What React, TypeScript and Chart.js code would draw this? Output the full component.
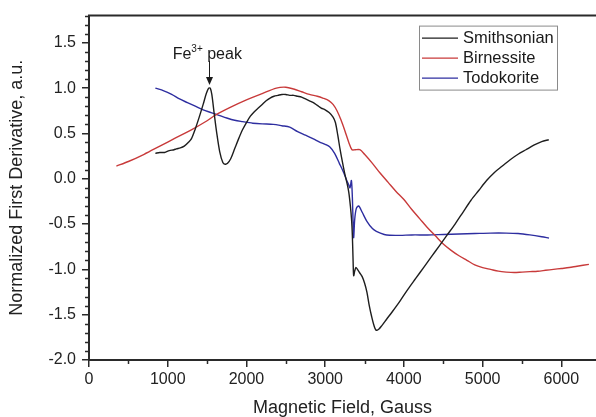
import { useEffect, useRef } from "react";
import { Chart, registerables } from "chart.js";

Chart.register(...registerables);

const seriesNames = ["Smithsonian", "Birnessite", "Todokorite"];

const smithX = [843, 900, 960, 1020, 1080, 1110, 1160, 1210, 1260, 1300, 1350, 1400, 1450, 1490, 1520, 1540, 1560, 1590, 1620, 1660, 1700, 1730, 1760, 1800, 1850, 1900, 1950, 2000, 2050, 2100, 2150, 2200, 2250, 2300, 2350, 2400, 2450, 2500, 2550, 2600, 2650, 2700, 2750, 2800, 2850, 2900, 2950, 3000, 3050, 3100, 3130, 3160, 3190, 3220, 3250, 3280, 3300, 3320, 3335, 3345, 3355, 3362, 3375, 3390, 3410, 3440, 3470, 3500, 3530, 3560, 3590, 3620, 3645, 3680, 3720, 3780, 3850, 3950, 4050, 4150, 4250, 4350, 4450, 4550, 4650, 4750, 4850, 4950, 5050, 5150, 5250, 5350, 5450, 5550, 5650, 5750, 5840];
const smithY = [0.28, 0.29, 0.29, 0.31, 0.32, 0.33, 0.34, 0.36, 0.40, 0.44, 0.55, 0.68, 0.82, 0.94, 1.0, 1.0, 0.93, 0.72, 0.52, 0.30, 0.18, 0.16, 0.17, 0.22, 0.33, 0.44, 0.54, 0.62, 0.69, 0.74, 0.78, 0.82, 0.86, 0.89, 0.91, 0.92, 0.93, 0.93, 0.92, 0.92, 0.91, 0.90, 0.88, 0.86, 0.84, 0.81, 0.78, 0.76, 0.73, 0.68, 0.62, 0.48, 0.32, 0.18, 0.05, -0.06, -0.15, -0.30, -0.45, -0.62, -0.92, -1.07, -1.02, -0.98, -1.0, -1.04, -1.08, -1.15, -1.25, -1.40, -1.52, -1.62, -1.67, -1.66, -1.62, -1.55, -1.47, -1.35, -1.22, -1.10, -0.98, -0.86, -0.74, -0.62, -0.50, -0.37, -0.24, -0.13, -0.02, 0.07, 0.14, 0.21, 0.27, 0.32, 0.37, 0.41, 0.43];

const birnX = [348, 500, 700, 900, 1100, 1300, 1500, 1600, 1800, 2000, 2200, 2380, 2500, 2600, 2700, 2800, 2900, 2970, 3050, 3100, 3150, 3200, 3250, 3300, 3340, 3380, 3440, 3500, 3600, 3700, 3800, 3900, 4000, 4100, 4200, 4300, 4400, 4500, 4600, 4700, 4800, 4900, 5000, 5100, 5200, 5300, 5400, 5500, 5600, 5700, 5800, 5900, 6000, 6100, 6200, 6350];
const birnY = [0.14, 0.19, 0.27, 0.36, 0.45, 0.54, 0.64, 0.70, 0.79, 0.87, 0.94, 1.0, 1.01, 0.99, 0.96, 0.93, 0.91, 0.89, 0.86, 0.82, 0.75, 0.65, 0.53, 0.40, 0.32, 0.32, 0.32, 0.27, 0.17, 0.06, -0.04, -0.14, -0.23, -0.34, -0.44, -0.54, -0.63, -0.72, -0.79, -0.85, -0.90, -0.95, -0.98, -1.0, -1.02, -1.03, -1.035, -1.03, -1.025, -1.02, -1.01, -1.0, -0.99, -0.98, -0.965, -0.945];

const todoX = [843, 950, 1050, 1150, 1250, 1350, 1450, 1550, 1650, 1750, 1850, 1950, 2080, 2200, 2340, 2450, 2550, 2650, 2750, 2850, 2930, 3000, 3060, 3120, 3180, 3230, 3270, 3300, 3315, 3333, 3345, 3355, 3362, 3375, 3395, 3425, 3470, 3530, 3600, 3650, 3750, 3820, 3950, 4100, 4300, 4500, 4700, 4900, 5100, 5300, 5450, 5600, 5750, 5843];
const todoY = [1.0, 0.97, 0.93, 0.88, 0.84, 0.80, 0.76, 0.73, 0.70, 0.67, 0.645, 0.63, 0.613, 0.605, 0.60, 0.585, 0.569, 0.52, 0.48, 0.44, 0.405, 0.38, 0.35, 0.28, 0.17, 0.077, -0.01, -0.07, -0.10, -0.02, -0.2, -0.5, -0.65, -0.45, -0.33, -0.30, -0.37, -0.47, -0.55, -0.58, -0.615, -0.624, -0.625, -0.62, -0.62, -0.615, -0.61, -0.605, -0.60, -0.60, -0.605, -0.62, -0.64, -0.655];

const xTicks = [0, 1000, 2000, 3000, 4000, 5000, 6000];
const yTicks = [-2.0, -1.5, -1.0, -0.5, 0.0, 0.5, 1.0, 1.5];
const xTitle = "Magnetic Field, Gauss";
const yTitle = "Normalized First Derivative, a.u.";
const annotationText = ["Fe", "3+", " peak"];
const peakX = 1530;

const colors = ["#1e1e1e", "#c83a3a", "#2e2ea0"];
const FONT = "'Liberation Sans', Arial, sans-serif";
const AXIS = "#2a2a2a";

const toPts = (xs: number[], ys: number[]) => xs.map((x, i) => ({ x, y: ys[i] }));

const decorPlugin = {
  id: "decor",
  afterDraw(chart: any) {
    const { ctx, chartArea: ca, scales } = chart;
    const x = scales.x;
    const y = scales.y;
    ctx.save();
    // top frame
    ctx.strokeStyle = AXIS;
    ctx.lineWidth = 2;
    ctx.beginPath();
    ctx.moveTo(ca.left - 1, ca.top);
    ctx.lineTo(chart.width, ca.top);
    ctx.stroke();
    // minor ticks
    ctx.lineWidth = 1.5;
    for (let i = -20; i <= 18; i++) {
      if (i % 5 === 0) continue;
      const py = Math.round(y.getPixelForValue(i / 10)) + 0.5;
      ctx.beginPath();
      ctx.moveTo(ca.left - 4, py);
      ctx.lineTo(ca.left, py);
      ctx.stroke();
    }
    for (let v = 500; v < x.max; v += 1000) {
      const px = Math.round(x.getPixelForValue(v)) + 0.5;
      ctx.beginPath();
      ctx.moveTo(px, ca.bottom);
      ctx.lineTo(px, ca.bottom + 4);
      ctx.stroke();
    }
    // annotation
    const tx = x.getPixelForValue(1063);
    const ty = y.getPixelForValue(1.32);
    ctx.fillStyle = "#1a1a1a";
    ctx.textBaseline = "alphabetic";
    ctx.textAlign = "left";
    ctx.font = `16px ${FONT}`;
    ctx.fillText(annotationText[0], tx, ty);
    let cx = tx + ctx.measureText(annotationText[0]).width;
    ctx.font = `10px ${FONT}`;
    ctx.fillText(annotationText[1], cx, ty - 7);
    cx += ctx.measureText(annotationText[1]).width;
    ctx.font = `16px ${FONT}`;
    ctx.fillText(annotationText[2], cx, ty);
    // arrow
    const ax = Math.round(x.getPixelForValue(peakX)) + 0.5;
    const ay0 = y.getPixelForValue(1.3);
    const ay1 = y.getPixelForValue(1.035);
    ctx.strokeStyle = "#1a1a1a";
    ctx.lineWidth = 1;
    ctx.beginPath();
    ctx.moveTo(ax, ay0);
    ctx.lineTo(ax, ay1 - 6);
    ctx.stroke();
    ctx.beginPath();
    ctx.moveTo(ax - 3.5, ay1 - 8);
    ctx.lineTo(ax + 3.5, ay1 - 8);
    ctx.lineTo(ax, ay1);
    ctx.closePath();
    ctx.fill();
    // legend
    const bx = ca.right - 177;
    const by = ca.top + 10;
    ctx.strokeStyle = "#8a8a8a";
    ctx.lineWidth = 1;
    ctx.strokeRect(bx + 0.5, by + 0.5, 138, 64);
    ctx.font = `16.5px ${FONT}`;
    ctx.textBaseline = "middle";
    seriesNames.forEach((name, i) => {
      const ry = by + 12 + i * 20;
      ctx.strokeStyle = colors[i];
      ctx.lineWidth = 1.3;
      ctx.beginPath();
      ctx.moveTo(bx + 3, ry + 0.5);
      ctx.lineTo(bx + 39, ry + 0.5);
      ctx.stroke();
      ctx.fillStyle = "#1a1a1a";
      ctx.fillText(name, bx + 44, ry + 1);
    });
    ctx.restore();
  },
};

export default function App() {
  const ref = useRef<HTMLCanvasElement>(null);
  useEffect(() => {
    if (!ref.current) return;
    const datasets = [
      toPts(smithX, smithY),
      toPts(birnX, birnY),
      toPts(todoX, todoY),
    ].map((data, i) => ({
      label: seriesNames[i],
      data,
      borderColor: colors[i],
      backgroundColor: colors[i],
      borderWidth: 1.4,
      pointRadius: 0,
      tension: 0.3,
      fill: false,
    }));
    const chart = new Chart(ref.current, {
      type: "line",
      data: { datasets },
      plugins: [decorPlugin],
      options: {
        animation: false,
        responsive: false,
        layout: { padding: { top: 13, left: 0, right: 0, bottom: 0 } },
        plugins: { legend: { display: false }, tooltip: { enabled: false } },
        scales: {
          x: {
            type: "linear",
            min: 0,
            max: 6440,
            afterBuildTicks: (s: any) => {
              s.ticks = xTicks.map((v) => ({ value: v }));
            },
            afterFit: (s: any) => {
              s.height = 57;
            },
            ticks: {
              color: "#222",
              font: { family: FONT, size: 16 },
              padding: 3,
              maxRotation: 0,
              autoSkip: false,
              callback: (v: any) => String(v),
            },
            grid: { drawOnChartArea: false, tickLength: 7, color: AXIS, lineWidth: 1.5 },
            border: { display: true, color: AXIS, width: 2 },
            title: {
              display: true,
              text: xTitle,
              color: "#222",
              font: { family: FONT, size: 18, lineHeight: 1 },
              padding: { top: 0, bottom: 0 },
            },
          },
          y: {
            type: "linear",
            min: -2.0,
            max: 1.8,
            afterBuildTicks: (s: any) => {
              s.ticks = yTicks.map((v) => ({ value: v }));
            },
            afterFit: (s: any) => {
              s.width = 89;
            },
            ticks: {
              color: "#222",
              font: { family: FONT, size: 16 },
              padding: 6,
              autoSkip: false,
              callback: (v: any) => Number(v).toFixed(1),
            },
            grid: { drawOnChartArea: false, tickLength: 7, color: AXIS, lineWidth: 1.5 },
            border: { display: true, color: AXIS, width: 2 },
            title: {
              display: true,
              text: yTitle,
              color: "#222",
              font: { family: FONT, size: 18, lineHeight: 1 },
              padding: { top: 8, bottom: 0 },
            },
          },
        },
      },
    });
    return () => chart.destroy();
  }, []);
  return (
    <div style={{ position: "fixed", left: 0, top: 0, width: 596, height: 417, background: "#fff" }}>
      <canvas ref={ref} width={596} height={417} style={{ width: 596, height: 417, display: "block" }} />
    </div>
  );
}
